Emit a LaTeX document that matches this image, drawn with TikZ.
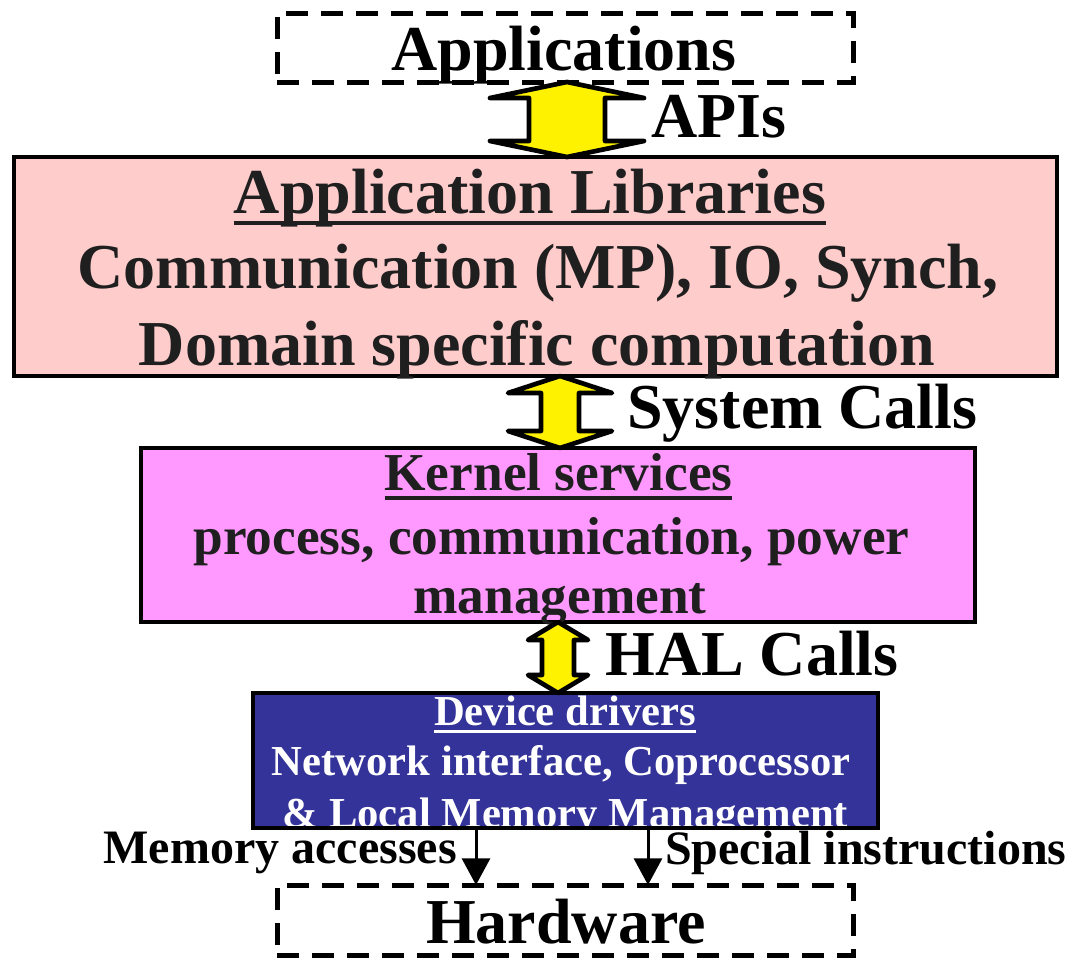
\documentclass[tikz,border=0pt]{standalone}
\usepackage{fontspec}
\setmainfont{Liberation Serif}
\usetikzlibrary{calc,arrows.meta}
\definecolor{libpink}{HTML}{FFCCCC}
\definecolor{kernpink}{HTML}{FF99FF}
\definecolor{drvblue}{HTML}{333399}
\definecolor{inktext}{HTML}{1F1F1F}
% thick underline that scales with the current font
\newcommand\ulbox[1]{\setbox0\hbox{#1}\rlap{\rule[-0.19em]{\wd0}{0.07em}}\box0}
% yellow double-headed arrow between two points:
% #1 top tip, #2 bottom tip, #3 half head width, #4 half shaft width, #5 head length
\newcommand\yarrow[5]{%
  \draw[yarrowstyle] (#1) -- ($(#1)+(#3,#5)$) -- ($(#1)+(#4,#5)$)
    -- ($(#2)+(#4,-#5)$) -- ($(#2)+(#3,-#5)$) -- (#2)
    -- ($(#2)+(-#3,-#5)$) -- ($(#2)+(-#4,-#5)$)
    -- ($(#1)+(-#4,#5)$) -- ($(#1)+(-#3,#5)$) -- cycle;}
\begin{document}
\begin{tikzpicture}[x=0.75pt,y=-0.75pt,
  layerbox/.style={draw=black,line width=3.5pt,inner sep=0pt,outer sep=0pt},
  dashbox/.style={draw=black,line width=3.75pt,dash pattern=on 16.5pt off 9.75pt,inner sep=0pt,outer sep=0pt},
  yarrowstyle/.style={draw=black,fill=yellow,line width=3.5pt,line join=round},
  downarr/.style={draw=black,line width=2.25pt,-{Triangle[length=20pt,width=21pt]}},
  bigtxt/.style={font=\bfseries\fontsize{48}{48}\selectfont,inner sep=0pt,anchor=base},
  midtxt/.style={font=\bfseries\fontsize{40}{40}\selectfont,inner sep=0pt,anchor=base,text=inktext},
  smalltxt/.style={font=\bfseries\fontsize{32}{32}\selectfont,inner sep=0pt,anchor=base,text=white},
  labtxt/.style={font=\bfseries\fontsize{36}{36}\selectfont,inner sep=0pt,anchor=base}]
\useasboundingbox (0,0) rectangle (1068,958);

% layer boxes
\node[dashbox,minimum width={576*0.75pt},minimum height={69*0.75pt}] (apps) at (565,47.5) {};
\node[layerbox,fill=libpink,minimum width={1043*0.75pt},minimum height={219*0.75pt}] (libs) at (535.5,266.5) {};
\node[layerbox,fill=kernpink,minimum width={834*0.75pt},minimum height={174*0.75pt}] (kern) at (558,535) {};
\node[fill=drvblue,inner sep=0pt,outer sep=0pt,minimum width={625*0.75pt},minimum height={135*0.75pt}] (drv) at (565.5,760.5) {};
\node[dashbox,minimum width={576*0.75pt},minimum height={70*0.75pt}] (hw) at (565,920) {};

% texts of the layers
\node[bigtxt] (appsT) at (564,70) {Applications};
\node[bigtxt,text=inktext] (libT1) at (530,213) {\ulbox{Application Libraries}};
\node[bigtxt,text=inktext] (libT2) at (538,288) {Communication (MP), IO, Synch,};
\node[bigtxt,text=inktext] (libT3) at (537,365) {Domain specific computation};
\node[midtxt] (kT1) at (558.5,490) {\ulbox{Kernel services}};
\node[midtxt] (kT2) at (551.5,554) {process, communication, power};
\node[midtxt] (kT3) at (560,613) {management};
\begin{scope}
  \clip (drv.south west) rectangle (drv.north east);
  \node[smalltxt] (dT1) at (565,725) {\ulbox{Device drivers}};
  \node[smalltxt] (dT2) at (561,775) {Network interface, Coprocessor};
  \node[smalltxt] (dT3) at (565.5,827) {\&~Local Memory Management};
\end{scope}
\draw[layerbox] (drv.south west) rectangle (drv.north east);
\node[bigtxt] (hwT) at (566,943) {Hardware};

% interfaces between layers
\coordinate (apiTop) at ($(apps.south)+(2,0)$);
\coordinate (apiBot) at (apiTop |- libs.north);
\yarrow{apiTop}{apiBot}{77}{38}{16}
\node[bigtxt,anchor=base west] (apiT) at (651,137) {APIs};

\coordinate (sysTop) at ($(libs.south)+(24.5,0)$);
\coordinate (sysBot) at (sysTop |- kern.north);
\yarrow{sysTop}{sysBot}{52}{19}{17}
\node[bigtxt,anchor=base west] (sysT) at (627,428) {System Calls};

\coordinate (halTop) at (kern.south);
\coordinate (halBot) at (halTop |- drv.north);
\yarrow{halTop}{halBot}{30}{16}{18}
\node[bigtxt,anchor=base west] (halT) at (605,675) {HAL Calls};

% accesses from the drivers to the hardware
\draw[downarr] ($(drv.south)+(-89.5,0)$) -- ($(hw.north)+(-89,0)$);
\draw[downarr] ($(drv.south)+(82.5,0)$) -- ($(hw.north)+(83,0)$);
\node[labtxt,anchor=base east] (memT) at (457,863) {Memory accesses};
\node[labtxt,anchor=base west] (speT) at (665,864) {Special instructions};
\end{tikzpicture}
\end{document}
